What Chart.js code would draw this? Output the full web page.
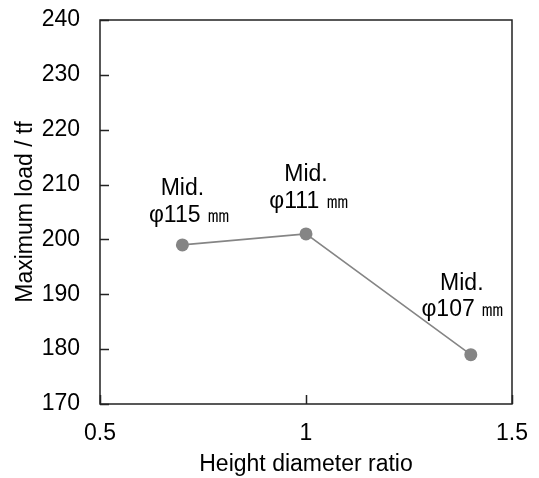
<!DOCTYPE html>
<html lang="en">
<head>
    <meta charset="UTF-8">
    <title>Maximum load vs height diameter ratio</title>
    <script src="https://cdn.jsdelivr.net/npm/chart.js"></script>
    <style>
        body {
            margin: 0;
            padding: 0;
            background: #ffffff;
            font-family: "Liberation Sans", Arial, sans-serif;
        }
    </style>
</head>
<body>
    <canvas id="loadChart"></canvas>

    <script>
        const ratios = [0.7, 1.0, 1.4];
        const maxLoads = [199, 201, 179];
        const pointLabels = [
            ["Mid.", "\u03c6115 \u339c"],
            ["Mid.", "\u03c6111 \u339c"],
            ["Mid.", "\u03c6107 \u339c"],
        ];
        const xTicks = [0.5, 1, 1.5];
        const yTicks = [170, 180, 190, 200, 210, 220, 230, 240];

        const FONT = "'Liberation Sans', Arial, sans-serif";
        const FS = 23;
        const TICK = 9;

        // box around plot + ticks pointing inward
        const frame = {
            id: "frame",
            afterDraw(chart) {
                const { ctx, chartArea: a } = chart;
                const sx = chart.scales.x;
                const sy = chart.scales.y;
                ctx.save();
                ctx.strokeStyle = "#222";
                ctx.lineWidth = 1.5;
                ctx.beginPath();
                ctx.rect(a.left, a.top, a.right - a.left, a.bottom - a.top);
                ctx.stroke();
                ctx.beginPath();
                for (let i = 0; i < yTicks.length; i++) {
                    const py = Math.round(sy.getPixelForValue(yTicks[i])) + 0.5;
                    ctx.moveTo(a.left, py);
                    ctx.lineTo(a.left + TICK, py);
                }
                for (let i = 0; i < xTicks.length; i++) {
                    const px = Math.round(sx.getPixelForValue(xTicks[i])) + 0.5;
                    ctx.moveTo(px, a.bottom);
                    ctx.lineTo(px, a.bottom - TICK);
                }
                ctx.stroke();
                ctx.restore();
            },
        };

        // [dx, dy] of each text line relative to its point
        const labelOffsets = [
            [[0, -56], [7, -29]],
            [[0, -59], [3, -32]],
            [[-9, -71], [-8, -45]],
        ];

        const pointText = {
            id: "pointText",
            afterDatasetsDraw(chart) {
                const { ctx } = chart;
                const meta = chart.getDatasetMeta(0);
                ctx.save();
                ctx.fillStyle = "#000";
                ctx.font = FS + "px " + FONT;
                ctx.textAlign = "center";
                ctx.textBaseline = "middle";
                meta.data.forEach((pt, i) => {
                    pointLabels[i].forEach((t, j) => {
                        const [dx, dy] = labelOffsets[i][j];
                        ctx.fillText(t, pt.x + dx, pt.y + dy);
                    });
                });
                ctx.restore();
            },
        };

        const data = {
            datasets: [
                {
                    data: ratios.map((r, i) => ({ x: r, y: maxLoads[i] })),
                    borderColor: "#858585",
                    backgroundColor: "#858585",
                    borderWidth: 1.6,
                    pointRadius: 6.5,
                    pointHoverRadius: 6.5,
                    pointBorderWidth: 0,
                    tension: 0,
                },
            ],
        };

        const config = {
            type: "scatter",
            data: data,
            options: {
                responsive: false,
                animation: false,
                showLine: true,
                layout: {
                    padding: { top: 20, right: 27, left: 0, bottom: 0 },
                },
                plugins: {
                    legend: { display: false },
                    tooltip: { enabled: false },
                },
                scales: {
                    x: {
                        type: "linear",
                        min: xTicks[0],
                        max: xTicks[xTicks.length - 1],
                        afterFit(scale) {
                            scale.height = 74;
                            scale.paddingLeft = 0;
                            scale.paddingRight = 0;
                        },
                        grid: { display: false, drawTicks: false },
                        border: { display: false },
                        ticks: {
                            stepSize: 0.5,
                            color: "#000",
                            padding: 16,
                            font: { family: FONT, size: FS },
                            callback: v => String(v),
                        },
                        title: {
                            display: true,
                            text: "Height diameter ratio",
                            color: "#000",
                            padding: { top: 0, bottom: 0 },
                            font: { family: FONT, size: FS },
                        },
                    },
                    y: {
                        type: "linear",
                        min: yTicks[0],
                        max: yTicks[yTicks.length - 1],
                        afterFit(scale) {
                            scale.width = 100;
                            scale.paddingTop = 0;
                            scale.paddingBottom = 0;
                        },
                        grid: { display: false, drawTicks: false },
                        border: { display: false },
                        ticks: {
                            stepSize: 10,
                            color: "#000",
                            padding: 20,
                            font: { family: FONT, size: FS },
                        },
                        title: {
                            display: true,
                            text: "Maximum load / tf",
                            color: "#000",
                            padding: { top: 12, bottom: 0 },
                            font: { family: FONT, size: FS },
                        },
                    },
                },
            },
            plugins: [frame, pointText],
        };

        const canvas = document.getElementById("loadChart");
        canvas.width = 539;
        canvas.height = 478;
        new Chart(canvas.getContext("2d"), config);
    </script>
</body>
</html>
